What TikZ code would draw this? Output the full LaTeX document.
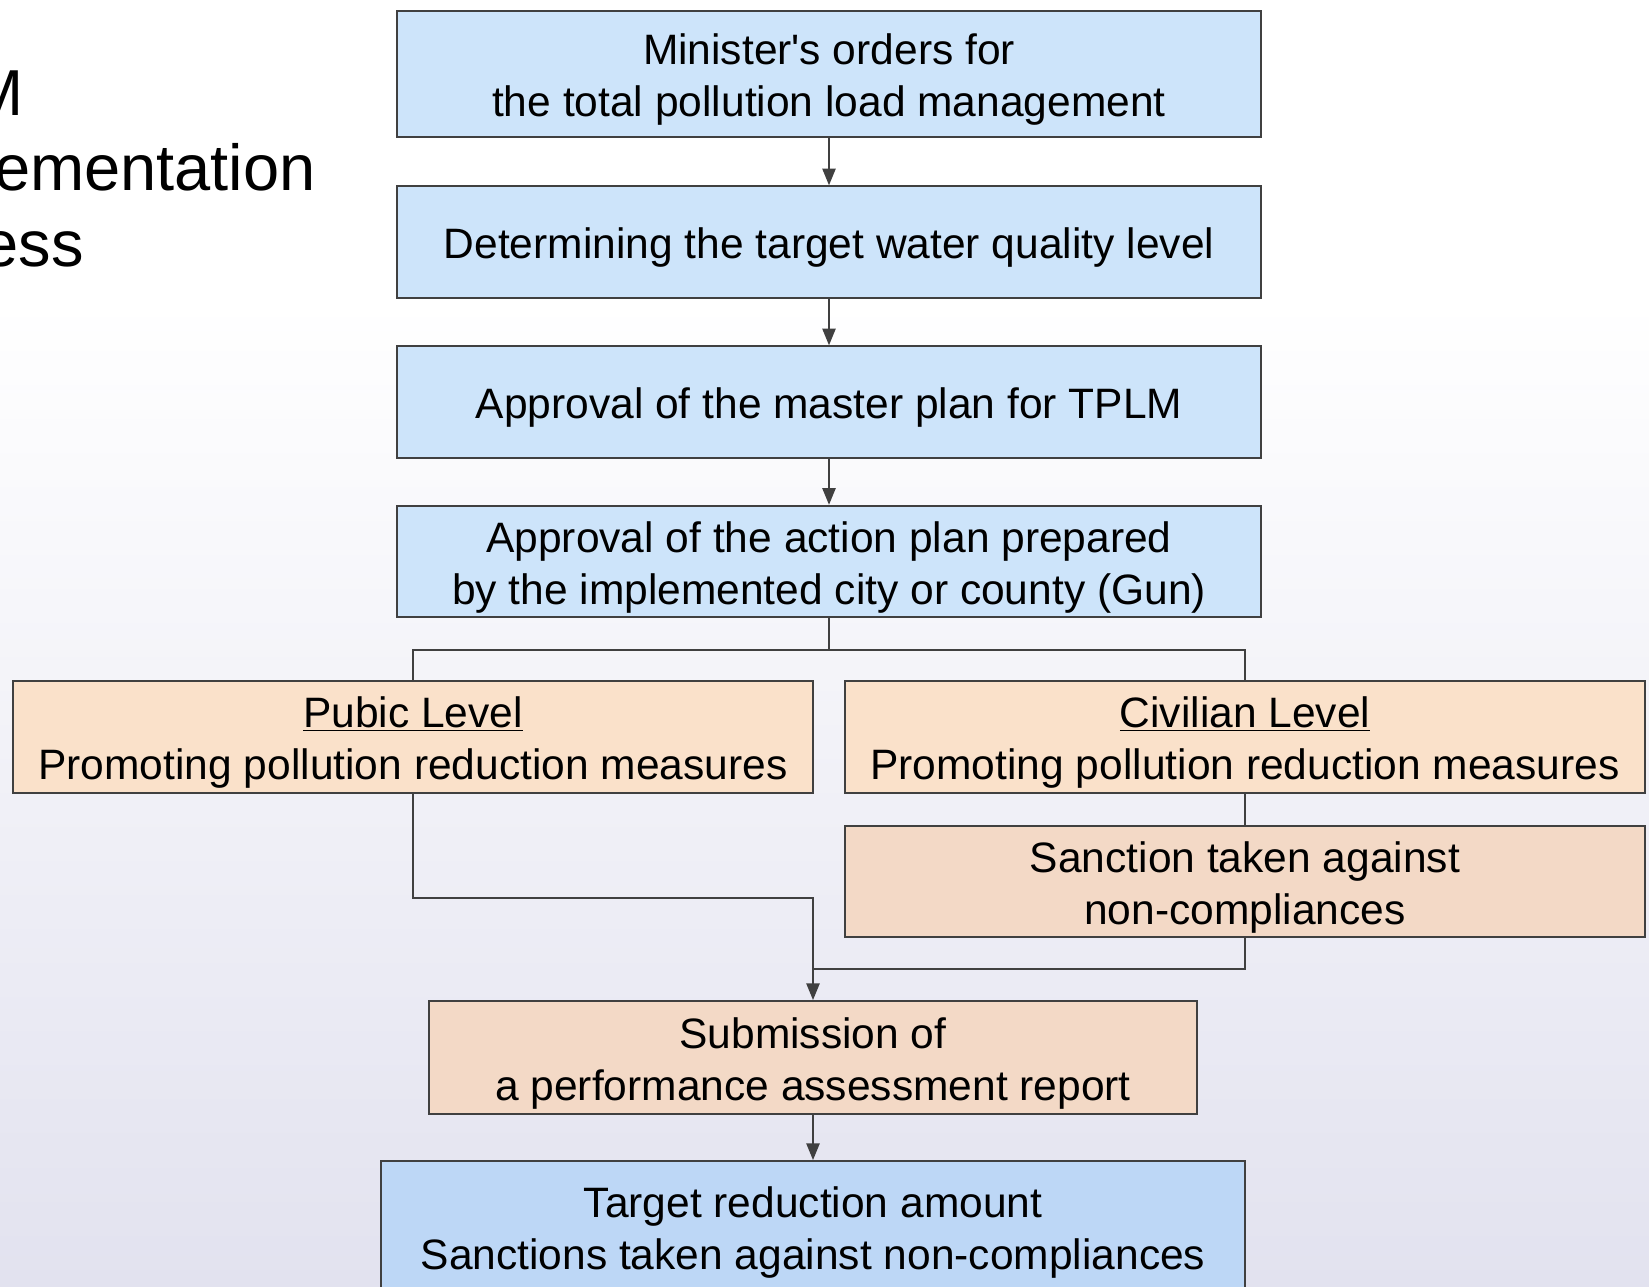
\documentclass[tikz,border=0pt]{standalone}
\usepackage{fontspec}
\setmainfont{Liberation Sans}
\usetikzlibrary{arrows.meta}
\definecolor{edge}{RGB}{64,64,64}
\definecolor{lightblue}{RGB}{205,228,250}
\definecolor{deepblue}{RGB}{189,215,246}
\definecolor{peach}{RGB}{250,225,202}
\definecolor{darkpeach}{RGB}{243,217,198}
\definecolor{lavender}{RGB}{226,226,239}
\newcommand\lift{\rule{0pt}{24pt}}
\begin{document}
\begin{tikzpicture}[x=0.02cm,y=-0.02cm,
  c/.style={rectangle,draw=edge,line width=1.1pt,align=center,inner sep=0pt,
    font=\fontsize{24.2}{29.6}\selectfont},
  b/.style={c,fill=lightblue,minimum width=17.27cm,minimum height=2.23cm},
  o/.style={c,fill=peach,minimum width=16cm,minimum height=2.23cm},
  l/.style={draw=edge,line width=1.1pt},
  a/.style={l,-{Triangle[length=9.5pt,width=7.5pt]}},
  t/.style={inner sep=0pt,font=\fontsize{37}{44}\selectfont}]
  \useasboundingbox (0,0) rectangle (1649,1286);
  \clip (0,0) rectangle (1649,1286);
  \fill[white] (0,0) rectangle (1649,300);
  \shade[top color=white,bottom color=lavender] (0,300) rectangle (1649,1286);

  \node[t,anchor=base east] (tplm) at (24,115) {M};
  \node[t,anchor=base east] (impl) at (316,190) {ementation};
  \node[t,anchor=base east] (proc) at (84,266) {ess};

  \node[b,minimum height=2.52cm] (orders) at (829,73.6) {\lift Minister\textquotesingle s orders for\\the total pollution load management};
  \node[b] (quality) at (829,242) {\lift Determining the target water quality level};
  \node[b] (master) at (829,402) {\lift Approval of the master plan for TPLM};
  \node[b] (action) at (829,561.5) {\lift Approval of the action plan prepared\\by the implemented city or county (Gun)};
  \node[o] (pubic) at (413,737) {\lift\underline{Pubic Level}\\Promoting pollution reduction measures};
  \node[o] (civil) at (1245,737) {\lift\underline{Civilian Level}\\Promoting pollution reduction measures};
  \node[o,fill=darkpeach] (sanction) at (1245,881.5) {\lift Sanction taken against\\non-compliances};
  \node[o,fill=darkpeach,minimum width=15.36cm,minimum height=2.26cm] (report) at (813,1057.5) {\lift Submission of\\a performance assessment report};
  \node[b,fill=deepblue,minimum width=17.29cm,minimum height=2.64cm] (amount) at (813,1227) {\lift Target reduction amount\\Sanctions taken against non-compliances};

  \coordinate (fork) at (829,650);
  \coordinate (join) at (813,968.6);
  \draw[a] (orders) -- (quality);
  \draw[a] (quality) -- (master);
  \draw[a] (master) -- (action);
  \draw[l] (action) -- (fork);
  \draw[l] (pubic.north) |- (fork) -| (civil.north);
  \draw[l] (civil) -- (sanction);
  \draw[a] (pubic.south) -- ++(0,104) -| (report.north);
  \draw[l] (sanction.south) |- (join);
  \draw[a] (report) -- (amount);
\end{tikzpicture}
\end{document}
